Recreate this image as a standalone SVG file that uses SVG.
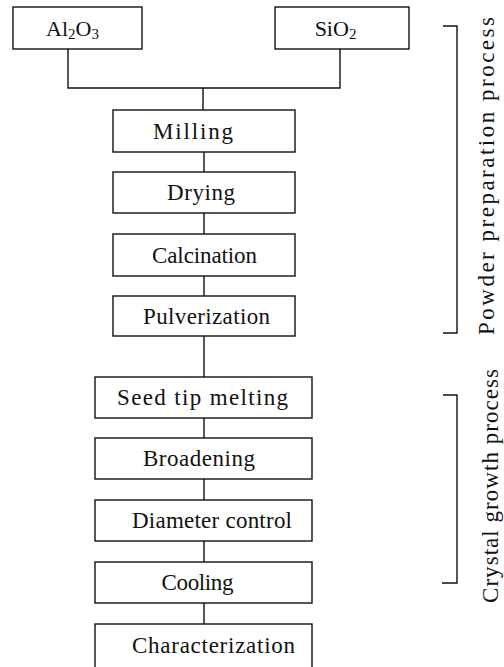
<svg xmlns="http://www.w3.org/2000/svg" width="504" height="667" viewBox="0 0 504 667">
<style>
.box{fill:#fff;stroke:#111;stroke-width:1.4}
.lbl{font-family:"Liberation Serif","Times New Roman",serif;font-size:23px;fill:#111;text-anchor:middle}
.chem{font-family:"Liberation Serif","Times New Roman",serif;font-size:22px;fill:#111;text-anchor:middle}
.side{font-family:"Liberation Serif","Times New Roman",serif;font-size:23px;fill:#111;text-anchor:middle}
.ln{fill:none;stroke:#111;stroke-width:1.4}
</style>
<rect width="504" height="667" fill="#fff"/>
<g id="connectors">
<path class="ln" d="M68,49 V88 H340 V49 M203,88 V110"/>
<path class="ln" d="M204,152 V172 M204,213 V234 M204,276 V296 M204,336 V377 M204,418 V438 M204,479 V500 M204,541 V562 M204,603 V624"/>
</g>
<g id="al2o3"><rect class="box" x="13" y="7" width="129" height="42"/><text class="chem" x="72.5" y="35.5">Al<tspan font-size="15" dy="3">2</tspan><tspan dy="-3">O</tspan><tspan font-size="15" dy="3">3</tspan></text></g>
<g id="sio2"><rect class="box" x="275" y="7" width="134" height="42"/><text class="chem" x="335.5" y="35.5">SiO<tspan font-size="15" dy="3">2</tspan></text></g>
<g id="milling"><rect class="box" x="113" y="110" width="182" height="42"/><text class="lbl" x="193" y="138.5" textLength="80" lengthAdjust="spacing">Milling</text></g>
<g id="drying"><rect class="box" x="113" y="172" width="182" height="41"/><text class="lbl" x="201" y="200" textLength="68" lengthAdjust="spacing">Drying</text></g>
<g id="calcination"><rect class="box" x="113" y="234" width="182" height="42"/><text class="lbl" x="204.5" y="262.5" textLength="105" lengthAdjust="spacing">Calcination</text></g>
<g id="pulverization"><rect class="box" x="113" y="296" width="182" height="40"/><text class="lbl" x="206.5" y="323.5" textLength="127" lengthAdjust="spacing">Pulverization</text></g>
<g id="seed"><rect class="box" x="95" y="377" width="217" height="41"/><text class="lbl" x="202.5" y="405" textLength="171" lengthAdjust="spacing">Seed tip melting</text></g>
<g id="broadening"><rect class="box" x="95" y="438" width="217" height="41"/><text class="lbl" x="199" y="466" textLength="112" lengthAdjust="spacing">Broadening</text></g>
<g id="diameter"><rect class="box" x="95" y="500" width="217" height="41"/><text class="lbl" x="212" y="528" textLength="160" lengthAdjust="spacing">Diameter control</text></g>
<g id="cooling"><rect class="box" x="95" y="562" width="217" height="41"/><text class="lbl" x="197.5" y="590" textLength="72" lengthAdjust="spacing">Cooling</text></g>
<g id="characterization"><rect class="box" x="95" y="624" width="217" height="46"/><text class="lbl" x="213.5" y="652.5" textLength="163" lengthAdjust="spacing">Characterization</text></g>
<g id="powder-bracket"><path class="ln" d="M443,26 H457 V333 H443"/><text class="side" transform="translate(494,176) rotate(-90)" textLength="318" lengthAdjust="spacing">Powder preparation process</text></g>
<g id="crystal-bracket"><path class="ln" d="M443,395 H457 V583 H442"/><text class="side" transform="translate(498,486) rotate(-90)" textLength="234" lengthAdjust="spacing">Crystal growth process</text></g>
</svg>
